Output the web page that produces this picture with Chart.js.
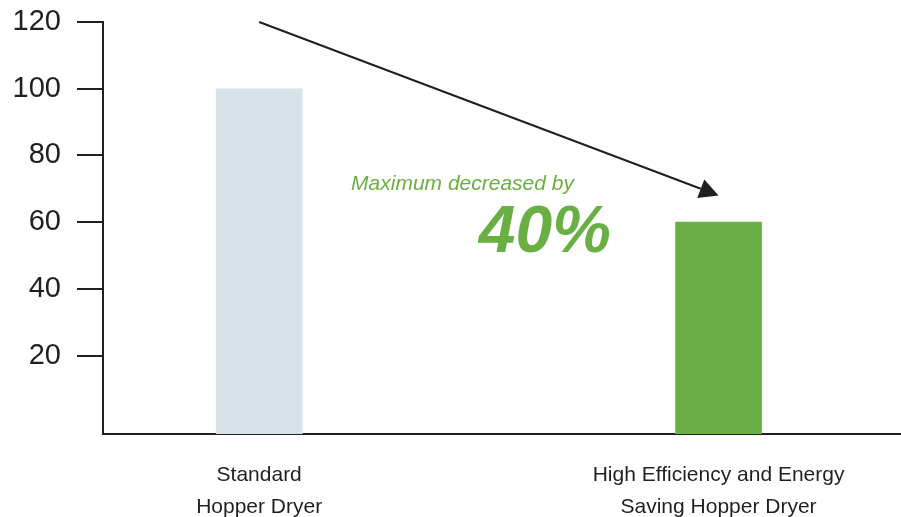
<!DOCTYPE html>
<html>
<head>
<meta charset="utf-8">
<script src="https://cdn.jsdelivr.net/npm/chart.js@4/dist/chart.umd.min.js"></script>
<style>
    body { margin: 0; background: #fff; }
    #wrap { width: 901px; height: 517px; position: relative; }
</style>
</head>
<body>
<div id="wrap"><canvas id="chart"></canvas></div>
<script>
const categories = [['Standard', 'Hopper Dryer'], ['High Efficiency and Energy', 'Saving Hopper Dryer']];
const categoryPositions = [1, 2];
const values = [100, 60];
const barColors = ['#d7e2e9', '#6aaf44'];
const yTicks = [20, 40, 60, 80, 100, 120];
const yMin = -3.5;
const yMax = 120;

// arrow from top of left column to just above right bar, in data units
const arrowFrom = {x: 1, y: 120};
const arrowTo = {x: 2, y: 68};
const noteSmall = {text: 'Maximum decreased by', x: 1.2, y: 69.7};
const noteBig = {text: '40%', x: 1.478, y: 51};

const dark = '#231f20';
const green = '#6aaf44';

const annotations = {
    id: 'annotations',
    afterDatasetsDraw(chart) {
        const ctx = chart.ctx;
        const xs = chart.scales.x;
        const ys = chart.scales.y;

        const x1 = xs.getPixelForValue(arrowFrom.x);
        const y1 = ys.getPixelForValue(arrowFrom.y);
        const x2 = xs.getPixelForValue(arrowTo.x);
        const y2 = ys.getPixelForValue(arrowTo.y);
        const angle = Math.atan2(y2 - y1, x2 - x1);
        const headLen = 19;
        const headHalf = 10;

        ctx.save();
        ctx.strokeStyle = dark;
        ctx.fillStyle = dark;
        ctx.lineWidth = 2;
        ctx.beginPath();
        ctx.moveTo(x1, y1);
        ctx.lineTo(x2 - Math.cos(angle) * headLen, y2 - Math.sin(angle) * headLen);
        ctx.stroke();

        ctx.translate(x2, y2);
        ctx.rotate(angle);
        ctx.beginPath();
        ctx.moveTo(0, 0);
        ctx.lineTo(-headLen, -headHalf);
        ctx.lineTo(-headLen, headHalf);
        ctx.closePath();
        ctx.fill();
        ctx.restore();

        ctx.save();
        ctx.fillStyle = green;
        ctx.textAlign = 'left';
        ctx.textBaseline = 'alphabetic';
        ctx.font = 'italic 21px "Liberation Sans", Arial, sans-serif';
        ctx.fillText(noteSmall.text, xs.getPixelForValue(noteSmall.x), ys.getPixelForValue(noteSmall.y));
        ctx.font = 'italic bold 66px "Liberation Sans", Arial, sans-serif';
        ctx.fillText(noteBig.text, xs.getPixelForValue(noteBig.x), ys.getPixelForValue(noteBig.y));
        ctx.restore();
    }
};

new Chart(document.getElementById('chart'), {
    type: 'bar',
    data: {
        datasets: [{
            data: categoryPositions.map((x, i) => ({x: x, y: values[i]})),
            backgroundColor: barColors,
            borderWidth: 0,
            barThickness: 86,
            base: yMin
        }]
    },
    options: {
        responsive: true,
        maintainAspectRatio: false,
        animation: false,
        layout: {
            padding: {top: 22, right: 1, left: 0, bottom: 0}
        },
        plugins: {
            legend: {display: false},
            tooltip: {enabled: false}
        },
        scales: {
            x: {
                type: 'linear',
                min: 0.66,
                max: 2.395,
                offset: false,
                afterBuildTicks: scale => {
                    scale.ticks = categoryPositions.map(v => ({value: v}));
                },
                afterFit: scale => {
                    scale.height = 83;
                    scale.paddingLeft = 0;
                    scale.paddingRight = 0;
                },
                grid: {display: false, offset: false},
                border: {display: true, color: dark, width: 2},
                ticks: {
                    autoSkip: false,
                    maxRotation: 0,
                    padding: 17,
                    color: dark,
                    font: {family: '"Liberation Sans", Arial, sans-serif', size: 21, lineHeight: 1.52},
                    callback: (value, index) => categories[index]
                }
            },
            y: {
                min: yMin,
                max: yMax,
                afterBuildTicks: scale => {
                    scale.ticks = yTicks.map(v => ({value: v}));
                },
                afterFit: scale => {
                    scale.width = 103;
                    scale.paddingTop = 0;
                    scale.paddingBottom = 0;
                },
                grid: {
                    drawOnChartArea: false,
                    drawTicks: true,
                    tickLength: 26,
                    color: dark,
                    lineWidth: 2
                },
                border: {display: true, color: dark, width: 2},
                ticks: {
                    padding: 16,
                    color: dark,
                    font: {family: '"Liberation Sans", Arial, sans-serif', size: 29}
                }
            }
        }
    },
    plugins: [annotations]
});
</script>
</body>
</html>
